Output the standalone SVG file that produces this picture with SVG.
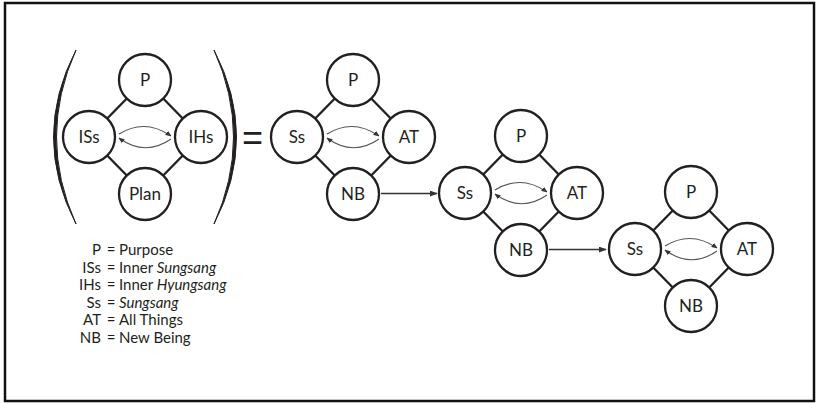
<svg xmlns="http://www.w3.org/2000/svg" width="819" height="404" viewBox="0 0 819 404">
<defs>
<style>
.node circle{fill:#fff;stroke:#231f20;stroke-width:2.3}
.node text{font-family:Lato,"Liberation Sans",sans-serif;font-size:17px;fill:#231f20;text-anchor:middle}
.edge{stroke:#231f20;stroke-width:2.3;fill:none}
.rel{stroke:#555;stroke-width:1.1;fill:none;marker-end:url(#ah)}
.flow{stroke:#333;stroke-width:1.4;fill:none;marker-end:url(#ah2)}
.legend text{font-family:Lato,"Liberation Sans",sans-serif;font-size:15px;fill:#231f20}
.paren{fill:#231f20;stroke:#231f20;stroke-width:1}
</style>
<marker id="ah" viewBox="0 0 10 10" refX="9" refY="5" markerWidth="6" markerHeight="5" markerUnits="userSpaceOnUse" orient="auto" preserveAspectRatio="none"><path d="M0,0 L10,5 L0,10 z" fill="#333"/></marker>
<marker id="ah2" viewBox="0 0 10 10" refX="9" refY="5" markerWidth="8" markerHeight="6" markerUnits="userSpaceOnUse" orient="auto" preserveAspectRatio="none"><path d="M0,0 L10,5 L0,10 z" fill="#333"/></marker>
</defs>
<rect x="0" y="0" width="819" height="404" fill="#fff"/>
<rect id="frame" x="5" y="3" width="809" height="398" fill="none" stroke="#111" stroke-width="2.5"/>

<g id="parens">
<path class="paren" d="M76,50 Q31,137 76,224 Q37,137 76,50 Z"/>
<path class="paren" d="M214,50 Q259,137 214,224 Q253,137 214,50 Z"/>
<text x="252.5" y="150" font-family="Liberation Sans,sans-serif" font-size="36" text-anchor="middle" fill="#231f20">=</text>
</g>

<g id="connectors">
<path class="edge" d="M107.2,118.5L126.8,98.5M163.2,98.5L182.8,118.5M107.2,155.5L126.8,175.5M163.2,175.5L182.8,155.5"/>
<path class="rel" d="M119,134 Q145,118 171,136"/>
<path class="rel" d="M171,139 Q145,157 119,138"/>
<path class="edge" d="M315.2,118.5L334.8,98.5M371.2,98.5L390.8,118.5M315.2,155.5L334.8,175.5M371.2,175.5L390.8,155.5"/>
<path class="rel" d="M327,134 Q353,118 379,136"/>
<path class="rel" d="M379,139 Q353,157 327,138"/>
<path class="edge" d="M483.2,174.5L502.8,154.5M539.2,154.5L558.8,174.5M483.2,211.5L502.8,231.5M539.2,231.5L558.8,211.5"/>
<path class="rel" d="M495,190 Q521,174 547,192"/>
<path class="rel" d="M547,195 Q521,213 495,194"/>
<path class="edge" d="M653.2,230.5L672.8,210.5M709.2,210.5L728.8,230.5M653.2,267.5L672.8,287.5M709.2,287.5L728.8,267.5"/>
<path class="rel" d="M665,246 Q691,230 717,248"/>
<path class="rel" d="M717,251 Q691,269 665,250"/>
<path class="flow" d="M381,193.5H437"/>
<path class="flow" d="M549,249.5H606"/>
</g>

<g id="d1-p" class="node"><circle cx="145" cy="80" r="26"/><text x="145" y="86">P</text></g>
<g id="d1-iss" class="node"><circle cx="89" cy="137" r="26"/><text x="89" y="143">ISs</text></g>
<g id="d1-ihs" class="node"><circle cx="201" cy="137" r="26"/><text x="201" y="143">IHs</text></g>
<g id="d1-plan" class="node"><circle cx="145" cy="194" r="26"/><text x="145" y="200">Plan</text></g>

<g id="d2-p" class="node"><circle cx="353" cy="80" r="26"/><text x="353" y="86">P</text></g>
<g id="d2-ss" class="node"><circle cx="297" cy="137" r="26"/><text x="297" y="143">Ss</text></g>
<g id="d2-at" class="node"><circle cx="409" cy="137" r="26"/><text x="409" y="143">AT</text></g>
<g id="d2-nb" class="node"><circle cx="353" cy="194" r="26"/><text x="353" y="200">NB</text></g>

<g id="d3-p" class="node"><circle cx="521" cy="136" r="26"/><text x="521" y="142">P</text></g>
<g id="d3-ss" class="node"><circle cx="465" cy="193" r="26"/><text x="465" y="199">Ss</text></g>
<g id="d3-at" class="node"><circle cx="577" cy="193" r="26"/><text x="577" y="199">AT</text></g>
<g id="d3-nb" class="node"><circle cx="521" cy="250" r="26"/><text x="521" y="256">NB</text></g>

<g id="d4-p" class="node"><circle cx="691" cy="192" r="26"/><text x="691" y="198">P</text></g>
<g id="d4-ss" class="node"><circle cx="635" cy="249" r="26"/><text x="635" y="255">Ss</text></g>
<g id="d4-at" class="node"><circle cx="747" cy="249" r="26"/><text x="747" y="255">AT</text></g>
<g id="d4-nb" class="node"><circle cx="691" cy="306" r="26"/><text x="691" y="312">NB</text></g>

<g id="legend" class="legend">
<text x="101" y="255" text-anchor="end">P</text><text x="111" y="255" text-anchor="middle">=</text><text x="119" y="255">Purpose</text>
<text x="101" y="272.5" text-anchor="end">ISs</text><text x="111" y="272.5" text-anchor="middle">=</text><text x="119" y="272.5">Inner <tspan font-style="italic">Sungsang</tspan></text>
<text x="101" y="290" text-anchor="end">IHs</text><text x="111" y="290" text-anchor="middle">=</text><text x="119" y="290">Inner <tspan font-style="italic">Hyungsang</tspan></text>
<text x="101" y="307.5" text-anchor="end">Ss</text><text x="111" y="307.5" text-anchor="middle">=</text><text x="119" y="307.5" font-style="italic">Sungsang</text>
<text x="101" y="325" text-anchor="end">AT</text><text x="111" y="325" text-anchor="middle">=</text><text x="119" y="325">All Things</text>
<text x="101" y="342.5" text-anchor="end">NB</text><text x="111" y="342.5" text-anchor="middle">=</text><text x="119" y="342.5">New Being</text>
</g>
</svg>
